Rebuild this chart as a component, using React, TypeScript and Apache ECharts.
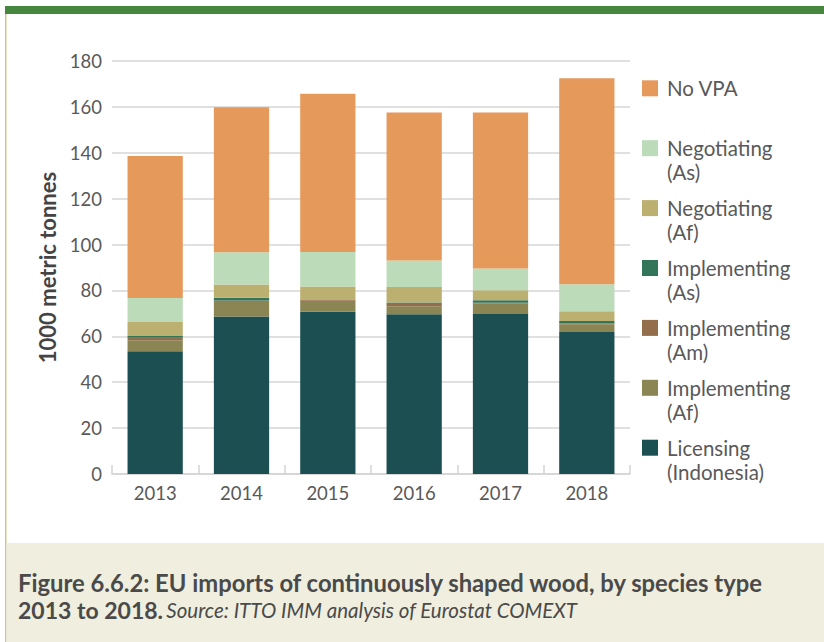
import React, { useEffect, useRef } from "react";
import * as echarts from "echarts";

const years = ["2013", "2014", "2015", "2016", "2017", "2018"];
const licensing = [53.5, 68.6, 70.7, 69.6, 69.7, 61.9];
const implAf = [4.8, 6.8, 4.8, 3.5, 4.7, 3.4];
const implAm = [1.1, 0.2, 0.3, 1.4, 0.2, 0.3];
const implAs = [1.0, 1.2, 0.2, 0.3, 1.1, 1.1];
const negAf = [5.8, 5.8, 5.7, 6.7, 4.4, 4.2];
const negAs = [10.5, 14.0, 15.1, 11.6, 9.5, 11.8];
const noVpa = [61.9, 63.2, 68.9, 64.5, 68.0, 89.8];

const seriesNames = [
  "Licensing (Indonesia)",
  "Implementing (Af)",
  "Implementing (Am)",
  "Implementing (As)",
  "Negotiating (Af)",
  "Negotiating (As)",
  "No VPA",
];
const legendLabels = [
  "Licensing\n(Indonesia)",
  "Implementing\n(Af)",
  "Implementing\n(Am)",
  "Implementing\n(As)",
  "Negotiating\n(Af)",
  "Negotiating\n(As)",
  "No VPA",
];
const seriesData = [licensing, implAf, implAm, implAs, negAf, negAs, noVpa];
const colors = ["#1B4F51", "#8A8553", "#936E4A", "#327559", "#BBB070", "#BCDCB9", "#E59A5C"];

const yTicks = { min: 0, max: 180, interval: 20 };
const yName = "1000 metric tonnes";
const captionTitle = "Figure 6.6.2: EU imports of continuously shaped wood, by species type";
const captionYear = "2013 to 2018.";
const captionSource = "Source: ITTO IMM analysis of Eurostat COMEXT";

const FONT = "Lato, 'Noto Sans', sans-serif";
const TEXT = "#595959";

export default function App() {
  const ref = useRef<HTMLDivElement>(null);
  useEffect(() => {
    if (!ref.current) return;
    const chart = echarts.init(ref.current, null, { renderer: "svg" });

    const legendEls: any[] = [];
    for (let k = 0; k < 7; k++) {
      const idx = 6 - k;
      const cy = 88.3 + 59.9 * k;
      legendEls.push({
        type: "rect",
        shape: { x: 642, y: cy - 8, width: 16, height: 16 },
        style: { fill: colors[idx] },
        silent: true,
      });
      legendEls.push({
        type: "text",
        x: 667,
        y: cy - 12,
        style: {
          text: legendLabels[idx],
          fill: TEXT,
          fontSize: 20.5,
          fontFamily: FONT,
          lineHeight: 24,
          align: "left",
          verticalAlign: "top",
          textAlign: "left",
          textVerticalAlign: "top",
        },
        silent: true,
      });
    }

    chart.setOption({
      animation: false,
      textStyle: { fontFamily: FONT },
      grid: { left: 112, right: 194, top: 61, bottom: 168, containLabel: false },
      xAxis: {
        type: "category",
        data: years,
        axisLine: { show: true, lineStyle: { color: "#d3d3d3", width: 1.5 } },
        axisTick: { show: true, inside: true, length: 9, lineStyle: { color: "#d3d3d3", width: 1.5 } },
        axisLabel: { color: TEXT, fontSize: 18.5, fontFamily: FONT, margin: 9 },
      },
      yAxis: {
        type: "value",
        min: yTicks.min,
        max: yTicks.max,
        interval: yTicks.interval,
        name: yName,
        nameLocation: "middle",
        nameGap: 49,
        nameTextStyle: { color: "#444", fontSize: 22, fontWeight: "bold", fontFamily: FONT },
        axisLine: { show: false },
        axisTick: { show: false },
        axisLabel: { color: TEXT, fontSize: 18.5, fontFamily: FONT, margin: 10 },
        splitLine: { lineStyle: { color: "#d6d6d6", width: 1.5 } },
      },
      series: seriesNames.map((name, i) => ({
        name,
        type: "bar",
        stack: "total",
        data: seriesData[i],
        barCategoryGap: "36%",
        itemStyle: { color: colors[i] },
      })),
      graphic: {
        elements: [
          { type: "rect", shape: { x: 5, y: 6, width: 819, height: 8 }, style: { fill: "#46873F" }, silent: true },
          { type: "rect", shape: { x: 5, y: 14, width: 1.5, height: 628 }, style: { fill: "#CBC68E" }, silent: true },
          { type: "rect", shape: { x: 6.5, y: 543, width: 818, height: 99 }, style: { fill: "#EFEEDF" }, silent: true },
          {
            type: "text",
            x: 18,
            y: 583,
            style: {
              text: captionTitle,
              fill: "#4a4a4a",
              fontSize: 23.8,
              fontWeight: "bold",
              fontFamily: FONT,
              align: "left",
              verticalAlign: "middle",
              textAlign: "left",
              textVerticalAlign: "middle",
            },
            silent: true,
          },
          {
            type: "text",
            x: 18,
            y: 610,
            style: {
              text: "{b|" + captionYear + "} {i|" + captionSource + "}",
              align: "left",
              verticalAlign: "middle",
              textAlign: "left",
              textVerticalAlign: "middle",
              rich: {
                b: { fontSize: 23, fontWeight: "bold", fontFamily: FONT, fill: "#4a4a4a" },
                i: { fontSize: 20.5, fontStyle: "italic", fontFamily: FONT, fill: "#4a4a4a" },
              },
            },
            silent: true,
          },
          ...legendEls,
        ],
      },
    });
    return () => chart.dispose();
  }, []);
  return (
    <div
      ref={ref}
      style={{ position: "fixed", left: 0, top: 0, width: 824, height: 642, background: "#fff" }}
    />
  );
}
